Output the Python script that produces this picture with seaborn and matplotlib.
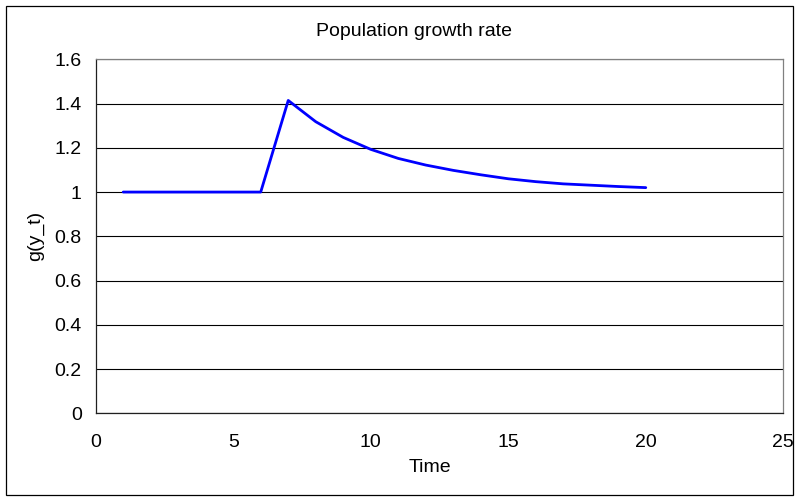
import matplotlib
matplotlib.use("Agg")
import matplotlib.pyplot as plt
import seaborn as sns
import pandas as pd
from matplotlib.patches import Rectangle

# Growth rate g(y_t) over time
time = list(range(1, 21))
growth = [1.0, 1.0, 1.0, 1.0, 1.0, 1.0,
          1.414, 1.318, 1.247, 1.193, 1.152, 1.122, 1.098, 1.078,
          1.060, 1.047, 1.037, 1.031, 1.025, 1.020]
x_ticks = [0, 5, 10, 15, 20, 25]
y_ticks = [0, 0.2, 0.4, 0.6, 0.8, 1.0, 1.2, 1.4, 1.6]
y_tick_labels = ["0", "0.2", "0.4", "0.6", "0.8", "1", "1.2", "1.4", "1.6"]

df = pd.DataFrame({"Time": time, "g": growth})

sns.set_style("white")
plt.rcParams["font.family"] = ["Liberation Sans", "DejaVu Sans"]
plt.rcParams["text.color"] = "black"
plt.rcParams["axes.labelcolor"] = "black"
FS = 14

fig = plt.figure(figsize=(7.99, 5.0), dpi=100)
ax_left, ax_right, ax_bottom, ax_top = 95.7, 783.3, 413.3, 59.3
ax = fig.add_axes([ax_left / 799, 1 - ax_bottom / 500,
                   (ax_right - ax_left) / 799, (ax_bottom - ax_top) / 500])

sns.lineplot(data=df, x="Time", y="g", ax=ax, color="#0000FF", linewidth=2.0)

ax.set_xlim(0, 25)
ax.set_ylim(0, 1.6)
ax.set_xticks(x_ticks)
ax.set_xticklabels([str(v) for v in x_ticks])
ax.set_yticks(y_ticks)
ax.set_yticklabels(y_tick_labels)

ax.yaxis.grid(True, color="black", linewidth=0.8)
ax.xaxis.grid(False)
ax.set_axisbelow(True)

for side in ("left", "bottom"):
    ax.spines[side].set_color("#202020")
    ax.spines[side].set_linewidth(0.9)
for side in ("top", "right"):
    ax.spines[side].set_color("#808080")
    ax.spines[side].set_linewidth(0.9)
    ax.spines[side].set_visible(True)

ax.tick_params(axis="both", direction="out", length=5, width=0.9,
               color="#808080", labelsize=FS, labelcolor="black")
ax.tick_params(axis="y", pad=5)
ax.tick_params(axis="x", pad=10)

ax.set_xlabel("Time", fontsize=FS, va="center", color="black")
ax.xaxis.set_label_coords((430 - ax_left) / (ax_right - ax_left),
                          (ax_bottom - 467) / (ax_bottom - ax_top))
ax.set_ylabel("g(y_t)", fontsize=FS, va="center", color="black")
ax.yaxis.set_label_coords((36 - ax_left) / (ax_right - ax_left), 0.5)

fig.text(414 / 799, 1 - 32 / 500, "Population growth rate", ha="center",
         va="center", fontsize=FS, color="black")

# Chart-area frame
fig.patches.append(Rectangle((5.5 / 799, 5.5 / 500), 787 / 799, 489 / 500,
                             transform=fig.transFigure, fill=False,
                             edgecolor="black", linewidth=0.9))

fig.savefig("out.png", dpi=100)
